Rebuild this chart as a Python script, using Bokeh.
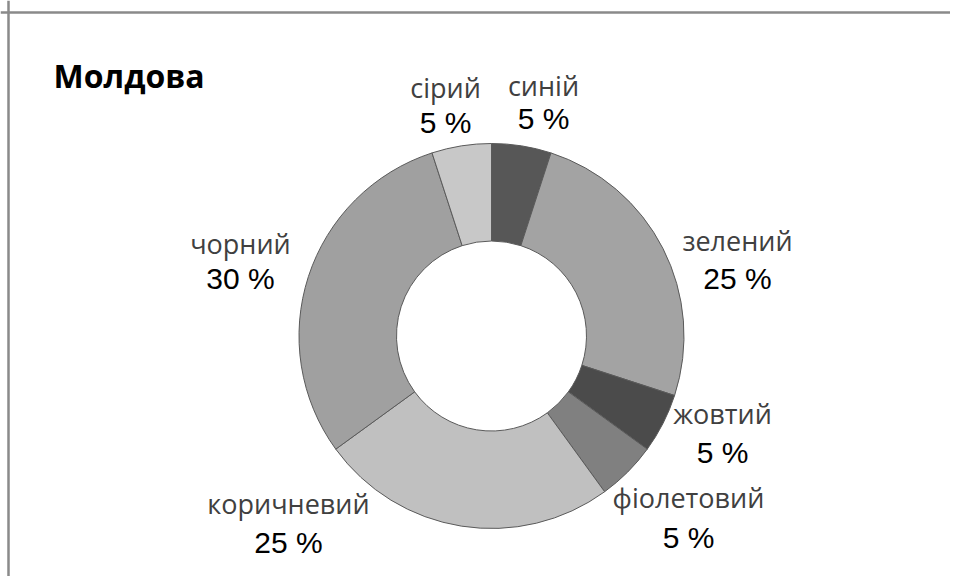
import numpy as np
from bokeh.plotting import figure
from bokeh.models import ColumnDataSource, Range1d, Span
from bokeh.core.properties import value
from bokeh.embed import file_html
from bokeh.resources import INLINE

# ---- data ----
title_text = "Молдова"
categories = ["синій", "зелений", "жовтий", "фіолетовий", "коричневий", "чорний", "сірий"]
percents = [5, 25, 5, 5, 25, 30, 5]
colors = ["#575757", "#a3a3a3", "#4b4b4b", "#808080", "#c0c0c0", "#a0a0a0", "#c8c8c8"]

# ---- layout (screenshot pixels) ----
W, H = 950, 576
OX, OY = 0, 576  # screenshot -> data: x = px - OX, y = OY - py
cx_page, cy_page = 491, 335.5
r_out, r_in = 192.5, 95
label_x_page = [543, 737, 722, 688, 288, 240, 445]
name_mid_page = [85, 240, 413, 497, 503, 243, 87]
pct_mid_page = [118, 278, 452, 537, 542, 278, 122]

p = figure(width=W, height=H, output_backend="svg", toolbar_location=None,
           x_range=Range1d(0, W), y_range=Range1d(0, H),
           min_border=0, min_border_left=0, min_border_right=0,
           min_border_top=0, min_border_bottom=0)
p.axis.visible = False
p.grid.visible = False
p.outline_line_color = None
p.background_fill_color = "white"
p.border_fill_color = "white"

# wedges: clockwise from 12 o'clock
vals = np.array(percents, dtype=float)
frac = vals / vals.sum()
cum = np.concatenate([[0], np.cumsum(frac)]) * 2 * np.pi
start_cw = cum[:-1]
end_cw = cum[1:]
src = ColumnDataSource(dict(
    start=np.pi / 2 - end_cw,
    end=np.pi / 2 - start_cw,
    color=colors,
))
cx, cy = cx_page - OX, OY - cy_page
p.annular_wedge(x=cx, y=cy, inner_radius=r_in, outer_radius=r_out,
                start_angle="start", end_angle="end", fill_color="color",
                line_color="#5a5a5a", line_width=1, source=src)

lsrc = ColumnDataSource(dict(
    x=[v - OX for v in label_x_page],
    yn=[OY - v for v in name_mid_page],
    yp=[OY - v for v in pct_mid_page],
    name=categories,
    pct=[f"{v} %" for v in percents],
))
p.text(x="x", y="yn", text="name", source=lsrc, text_align="center",
       text_baseline="middle", text_font=value("Open Sans"),
       text_font_size="27px", text_color="#404040")
p.text(x="x", y="yp", text="pct", source=lsrc, text_align="center",
       text_baseline="middle", text_font=value("Liberation Sans"),
       text_font_size="30px", text_color="#000000")

p.text(x=[53 - OX], y=[OY - 75], text=[title_text], text_align="left",
       text_baseline="middle", text_font=value("Open Sans"),
       text_font_style="bold", text_font_size="32px", text_color="#000000")

# chart border (top and left visible)
p.add_layout(Span(location=OY - 12, dimension="width", line_color="#8a8a8a", line_width=2.5))
p.add_layout(Span(location=8, dimension="height", line_color="#8a8a8a", line_width=2.5))

open("out.html", "w").write(file_html(p, INLINE))
